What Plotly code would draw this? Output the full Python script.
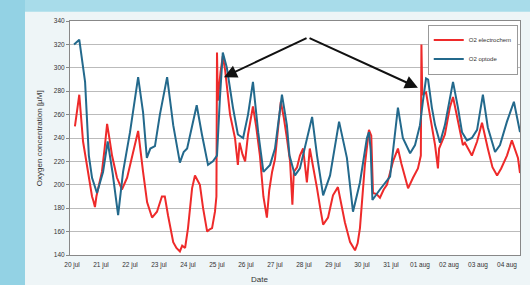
import plotly.graph_objects as go

# Day offsets from 20 jul 00:00
tick_days = list(range(16))
tick_labels = ["20 jul", "21 jul", "22 jul", "23 jul", "24 jul", "25 jul", "26 jul", "27 jul",
               "28 jul", "29 jul", "30 jul", "31 jul", "01 aug", "02 aug", "03 aug", "04 aug"]

optode_t = [0.07, 0.25, 0.45, 0.58, 0.69, 0.86, 1.07, 1.23, 1.40, 1.59, 1.76, 2.0, 2.28, 2.45, 2.58,
            2.70, 2.86, 3.03, 3.28, 3.49, 3.72, 3.85, 3.97, 4.14, 4.30, 4.48, 4.69, 4.86, 5.0, 5.1,
            5.2, 5.34, 5.55, 5.72, 5.9, 6.07, 6.24, 6.42, 6.6, 6.83, 7.0, 7.24, 7.41, 7.5, 7.69,
            7.86, 8.03, 8.28, 8.45, 8.66, 8.9, 9.21, 9.48, 9.69, 9.93, 10.17, 10.24, 10.30, 10.36,
            10.62, 10.97, 11.2, 11.24, 11.41, 11.66, 11.83, 12.0, 12.1, 12.21, 12.28, 12.41, 12.52,
            12.69, 12.86, 13.03, 13.14, 13.31, 13.45, 13.62, 13.79, 13.97, 14.17, 14.34, 14.59,
            14.76, 15.0, 15.24, 15.45]
optode_o2 = [320, 324, 288, 225, 206, 193, 211, 237, 210, 174, 211, 245, 292, 262, 223,
             231, 233, 260, 292, 251, 219, 228, 231, 251, 268, 243, 217, 220, 225, 274,
             313, 300, 266, 243, 240, 260, 288, 245, 211, 217, 231, 277, 251, 225, 208,
             214, 231, 258, 225, 191, 208, 254, 223, 177, 202, 240, 245, 230, 187,
             196, 207, 255, 266, 240, 227, 234, 251, 271, 291, 290, 266, 251,
             236, 251, 274, 288, 266, 245, 238, 240, 247, 277, 249, 228,
             234, 254, 271, 245]

electro_t = [0.10, 0.17, 0.25, 0.38, 0.52, 0.62, 0.69, 0.74, 0.79, 0.84, 0.90, 1.03, 1.12, 1.21,
             1.30, 1.38, 1.55, 1.72, 1.90, 2.07, 2.28, 2.45, 2.59, 2.76, 2.93, 3.10, 3.20, 3.31,
             3.49, 3.60, 3.72, 3.80, 3.90, 4.00, 4.14, 4.24, 4.33, 4.41, 4.52, 4.66, 4.75, 4.83,
             4.93, 4.98, 5.00, 5.03, 5.12, 5.20, 5.28, 5.45, 5.62, 5.72, 5.78, 5.88, 5.97, 6.07,
             6.24, 6.35, 6.48, 6.60, 6.72, 6.80, 6.90, 7.00, 7.20, 7.30, 7.41, 7.52, 7.60, 7.65,
             7.76, 7.86, 7.97, 8.10, 8.20, 8.30, 8.45, 8.56, 8.66, 8.83, 9.00, 9.17, 9.34, 9.41,
             9.59, 9.70, 9.76, 9.85, 9.93, 10.10, 10.24, 10.32, 10.38, 10.50, 10.62, 10.75, 10.86,
             11.07, 11.24, 11.36, 11.48, 11.59, 11.76, 11.93, 12.03, 12.05, 12.08, 12.21, 12.34,
             12.52, 12.62, 12.66, 12.86, 13.03, 13.14, 13.31, 13.48, 13.55, 13.66, 13.79, 13.97,
             14.14, 14.34, 14.50, 14.66, 14.80, 15.00, 15.17, 15.38, 15.45]
electro_o2 = [250, 262, 277, 237, 214, 198, 190, 186, 181, 190, 197, 211, 230, 252,
              238, 225, 206, 196, 206, 223, 246, 211, 185, 172, 177, 190, 190, 174,
              151, 146, 143, 148, 146, 163, 197, 208, 203, 200, 180, 160, 162, 163,
              177, 190, 313, 272, 296, 310, 298, 260, 240, 217, 236, 226, 220, 243,
              267, 250, 225, 190, 172, 195, 211, 222, 271, 258, 240, 220, 183, 211,
              215, 225, 231, 202, 231, 218, 197, 180, 166, 172, 191, 198, 177, 168,
              151, 147, 144, 150, 163, 217, 247, 242, 193, 192, 189, 196, 200,
              220, 231, 218, 208, 197, 206, 214, 225, 320, 277, 279, 260,
              234, 214, 231, 243, 266, 275, 254, 234, 236, 231, 225, 237,
              253, 231, 215, 208, 214, 225, 238, 223, 210]

# arrow annotation anchor (apex) and targets, in data units
arrow_apex = (8.14, 326)
arrow_targets = [(5.24, 292), (11.93, 283)]

fig = go.Figure()
fig.add_trace(go.Scatter(x=electro_t, y=electro_o2, mode="lines", name="O2 electrochem",
                         line=dict(color="#ee2a2a", width=2)))
fig.add_trace(go.Scatter(x=optode_t, y=optode_o2, mode="lines", name="O2 optode",
                         line=dict(color="#23698c", width=2)))

for tx, ty in arrow_targets:
    fig.add_annotation(x=tx, y=ty, ax=arrow_apex[0], ay=arrow_apex[1], xref="x", yref="y",
                       axref="x", ayref="y", showarrow=True, arrowhead=2, arrowsize=1.3,
                       arrowwidth=2, arrowcolor="#111111", text="")

fig.add_annotation(text="Oxygen concentration [µM]", xref="paper", yref="paper",
                   x=-0.083, y=0.5, textangle=-90, showarrow=False,
                   font=dict(family="Liberation Sans, Arial", size=8, color="#333333"))
fig.add_annotation(text="Date", xref="paper", yref="paper", x=0.42, y=-0.103,
                   yanchor="middle", showarrow=False,
                   font=dict(family="Liberation Sans, Arial", size=8, color="#333333"))

# slide background pieces
fig.add_shape(type="rect", xref="paper", yref="paper", x0=-0.2, x1=-0.1, y0=-0.2, y1=1.2,
              fillcolor="#93d2e4", line=dict(width=0), layer="below")
fig.add_shape(type="rect", xref="paper", yref="paper", x0=-0.1, x1=1.05, y0=1.04, y1=1.2,
              fillcolor="#a8dcea", line=dict(width=0), layer="below")

fig.update_layout(
    width=530, height=285,
    margin=dict(l=70, r=10, t=21, b=30),
    paper_bgcolor="#eef5f7", plot_bgcolor="#ffffff",
    font=dict(family="Liberation Sans, Arial", size=7, color="#333333"),
    showlegend=True,
    legend=dict(x=0.995, y=0.985, xanchor="right", yanchor="top", bgcolor="#ffffff",
                bordercolor="#999999", borderwidth=1, font=dict(size=6),
                tracegroupgap=0, itemwidth=30),
    xaxis=dict(range=[-0.07, 15.45], tickmode="array", tickvals=tick_days, ticktext=tick_labels,
               showgrid=False, zeroline=False, showline=True, linecolor="#888888", mirror=True,
               ticks="", ticklabelstandoff=3, tickfont=dict(size=6.5)),
    yaxis=dict(range=[140, 340], tickvals=list(range(140, 341, 20)), showgrid=True,
               gridcolor="#bbbbbb", gridwidth=1, zeroline=False, showline=True,
               linecolor="#888888", mirror=True, ticks="outside", ticklen=3,
               tickcolor="#888888", tickfont=dict(size=6.5)),
)

fig.write_html("out.html", config={"displayModeBar": False},
               post_script="document.body.style.margin='0';")
